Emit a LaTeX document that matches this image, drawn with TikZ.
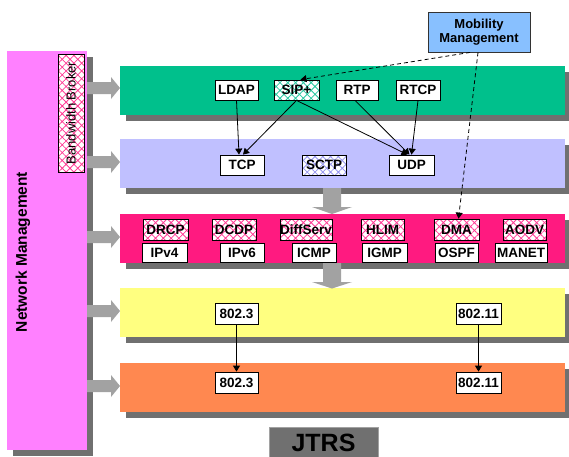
\documentclass[tikz,border=0pt]{standalone}
\usepackage{fontspec}
\setmainfont{Liberation Sans}
\usetikzlibrary{arrows.meta,patterns.meta}
\definecolor{nmpink}{RGB}{255,128,255}
\definecolor{lgreen}{RGB}{0,192,140}
\definecolor{llav}{RGB}{192,192,255}
\definecolor{lmag}{RGB}{255,26,128}
\definecolor{lyel}{RGB}{255,255,128}
\definecolor{lora}{RGB}{255,136,80}
\definecolor{mobblue}{RGB}{136,192,255}
\definecolor{arrgray}{RGB}{162,162,162}
\definecolor{shgray}{RGB}{112,112,112}
\definecolor{hgreen}{RGB}{40,200,160}
\definecolor{hlav}{RGB}{150,150,240}
\definecolor{hpink}{RGB}{255,60,150}
\begin{document}
\begin{tikzpicture}[x=1pt,y=-1pt,
  lbl/.style={draw=black,line width=0.8pt,fill=white,minimum height=20,inner sep=0pt,
    font=\fontsize{13.5}{15}\selectfont\bfseries},
  hatchbox/.style={lbl,preaction={fill=white},pattern={Hatch[angle=45,distance=5.5pt,line width=0.8pt]},pattern color=#1},
  layer/.style={draw=none,fill=#1,minimum width=445,minimum height=49,inner sep=0pt},
  conn/.style={line width=0.8pt,-{Triangle[length=6pt,width=7pt]}},
  dconn/.style={line width=0.8pt,dash pattern=on 4pt off 3pt,-{Triangle[length=6pt,width=7pt]}},
  fatarrow/.style={fill=arrgray,draw=none}]
\useasboundingbox (0,0) rectangle (569,456);
\fill[white] (0,0) rectangle (569,456);
% Network management
\fill[shgray] (13,57) rectangle (93,456);
\node[draw=none,fill=nmpink,minimum width=80,minimum height=399,inner sep=0pt] (nm) at (47,250.5) {};
\node[rotate=90,font=\fontsize{15.5}{17}\selectfont\bfseries] (nmtxt) at (23,252) {Network Management};
\node[draw=black,line width=0.7pt,preaction={fill=white},pattern={Hatch[angle=45,distance=5.5pt,line width=0.8pt]},pattern color=hpink,
  minimum width=26,minimum height=118,inner sep=0pt] (bb) at (71,113) {};
\node[rotate=90,font=\fontsize{13}{15}\selectfont] (bbtxt) at (71,113) {Bandwidth Broker};
% layer shadows
\foreach \yc in {90.5,163.5,238.5,312.5,387.5}{
  \fill[shgray] (126,\yc-24.5+6) rectangle (571,\yc+24.5+6);
}
% layers
\node[layer=lgreen] (app) at (342.5,90.5) {};
\node[layer=llav] (trn) at (342.5,163.5) {};
\node[layer=lmag] (net) at (342.5,238.5) {};
\node[layer=lyel] (lnk) at (342.5,312.5) {};
\node[layer=lora] (phy) at (342.5,387.5) {};
% left arrows
\foreach \yc in {88,162,237,311,386}{
  \fill[fatarrow] (87,\yc-6) -- (111,\yc-6) -- (111,\yc-11) -- (120,\yc) -- (111,\yc+11) -- (111,\yc+6) -- (87,\yc+6) -- cycle;
}
% down arrows
\fill[fatarrow] (323,188) -- (341,188) -- (341,207) -- (352,207) -- (332,214) -- (312,207) -- (323,207) -- cycle;
\fill[fatarrow] (323,263) -- (341,263) -- (341,282) -- (352,282) -- (332,288.5) -- (312,282) -- (323,282) -- cycle;
% JTRS
\node[draw=arrgray,line width=0.6pt,fill=shgray,minimum width=109,minimum height=31,inner sep=0pt,
  font=\fontsize{25}{27}\selectfont\bfseries] (jtrs) at (323.5,442.5) {JTRS};
% Mobility management
\node[lbl,fill=mobblue,draw=black!80,minimum width=102,minimum height=40,align=center,
  font=\fontsize{13}{14}\selectfont\bfseries] (mob) at (479,32) {Mobility\\Management};
% application layer
\node[lbl,minimum width=43] (ldap) at (236.5,90) {LDAP};
\node[hatchbox=hgreen,minimum width=45] (sip) at (296.5,90) {SIP+};
\node[lbl,minimum width=42] (rtp) at (357,90) {RTP};
\node[lbl,minimum width=44] (rtcp) at (418,90) {RTCP};
% transport
\node[lbl,minimum width=44] (tcp) at (242,165) {TCP};
\node[hatchbox=hlav,minimum width=44] (sctp) at (324,165) {SCTP};
\node[lbl,minimum width=45] (udp) at (411.5,165) {UDP};
% network
\node[hatchbox=hpink,minimum width=45,minimum height=21] (drcp) at (165.5,229.5) {DRCP};
\node[hatchbox=hpink,minimum width=44,minimum height=21] (dcdp) at (234,229.5) {DCDP};
\node[hatchbox=hpink,minimum width=52,minimum height=21] (diff) at (306,229.5) {DiffServ};
\node[hatchbox=hpink,minimum width=43,minimum height=21] (hlim) at (382.5,229.5) {HLIM};
\node[hatchbox=hpink,minimum width=45,minimum height=21] (dma) at (456.5,229.5) {DMA};
\node[hatchbox=hpink,minimum width=43,minimum height=21] (aodv) at (524.5,229.5) {AODV};
\node[lbl,minimum width=45,minimum height=19] (ipv4) at (164.5,252.5) {IPv4};
\node[lbl,minimum width=44,minimum height=19] (ipv6) at (242,252.5) {IPv6};
\node[lbl,minimum width=44,minimum height=19] (icmp) at (314,252.5) {ICMP};
\node[lbl,minimum width=45,minimum height=19] (igmp) at (384.5,252.5) {IGMP};
\node[lbl,minimum width=43,minimum height=19] (ospf) at (456.5,252.5) {OSPF};
\node[lbl,minimum width=52,minimum height=19] (manet) at (521,252.5) {MANET};
% link / phy
\node[lbl,minimum width=43,minimum height=21] (lk3) at (236.5,313.5) {802.3};
\node[lbl,minimum width=45,minimum height=21] (lk11) at (478.5,313.5) {802.11};
\node[lbl,minimum width=43,minimum height=21] (ph3) at (236.5,382.5) {802.3};
\node[lbl,minimum width=45,minimum height=21] (ph11) at (478.5,382.5) {802.11};
% connectors
\draw[conn] (ldap.south) -- ([xshift=-3pt]tcp.north);
\draw[conn] (sip.south) -- ([xshift=1pt]tcp.north);
\draw[conn] (sip.south) -- ([xshift=-4pt]udp.north);
\draw[conn] ([xshift=-2pt]rtp.south) -- ([xshift=-2pt]udp.north);
\draw[conn] (rtcp.south) -- ([xshift=0pt]udp.north);
\draw[dconn] ([xshift=-9pt]mob.south) -- ([xshift=4pt]sip.north);
\draw[dconn] ([xshift=-1pt]mob.south) -- ([xshift=2pt]dma.north);
\draw[conn] (lk3.south) -- (ph3.north);
\draw[conn] (lk11.south) -- (ph11.north);
\end{tikzpicture}
\end{document}
